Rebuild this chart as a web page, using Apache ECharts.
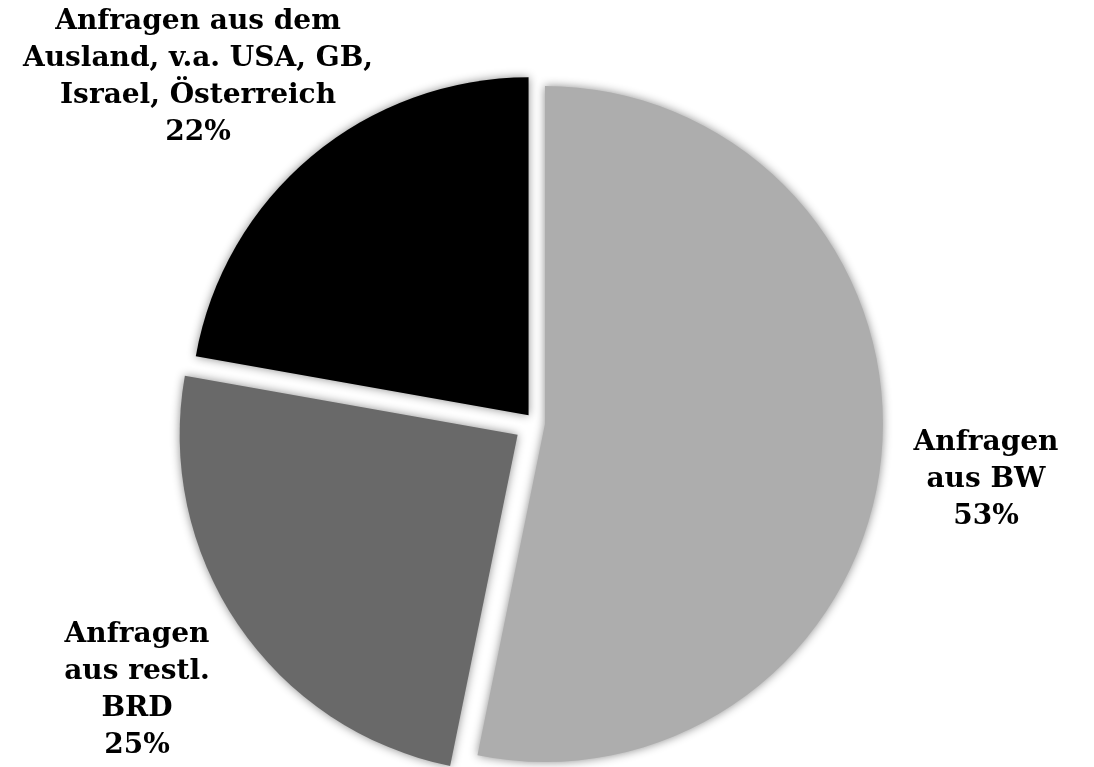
<!DOCTYPE html>
<html>
<head>
<meta charset="utf-8">
<script src="https://cdn.jsdelivr.net/npm/echarts@6/dist/echarts.min.js"></script>
<style>
  html, body { margin: 0; padding: 0; background: #fff; }
  #chart { width: 1094px; height: 767px; }
</style>
</head>
<body>
<div id="chart"></div>
<script>
// Herkunft der Anfragen (Anteile in %)
var names = ['Anfragen\naus BW', 'Anfragen\naus restl.\nBRD', 'Anfragen aus dem\nAusland, v.a. USA, GB,\nIsrael, Österreich'];
var values = [53.2, 24.6, 22.2];
var colors = ['#adadad', '#696969', '#000000'];

// layout only: pie centre/radius, how far each slice is pulled out, label centres
var cx = 535, cy = 423, rad = 338;
var offsets = [10, 21, 10];
var labelPos = [[986, 480], [137, 690], [198, 77]];

var myChart = echarts.init(document.getElementById('chart'), null, { renderer: 'canvas' });

var total = 0;
for (var i = 0; i < values.length; i++) total += values[i];

// one pie per slice, so every slice can be pulled out by its own amount
var series = [];
var graphics = [];
var acc = 0;
for (var i = 0; i < values.length; i++) {
    var mid = (acc + values[i] / 2) / total * 2 * Math.PI;
    acc += values[i];
    var dx = offsets[i] * Math.sin(mid);
    var dy = -offsets[i] * Math.cos(mid);

    var data = [];
    for (var j = 0; j < values.length; j++) {
        data.push({
            name: names[j],
            value: values[j],
            itemStyle: j === i
                ? { color: colors[j], shadowBlur: 10, shadowColor: 'rgba(0,0,0,0.45)' }
                : { color: 'rgba(0,0,0,0)', shadowBlur: 0 }
        });
    }
    series.push({
        type: 'pie',
        center: [cx + dx, cy + dy],
        radius: rad,
        startAngle: 90,
        clockwise: true,
        silent: true,
        label: { show: false },
        labelLine: { show: false },
        itemStyle: { borderWidth: 0 },
        data: data
    });

    var pct = Math.round(values[i] / total * 100);
    graphics.push({
        type: 'text',
        x: labelPos[i][0],
        y: labelPos[i][1],
        style: {
            text: names[i] + '\n' + pct + '%',
            fill: '#000',
            font: 'bold 28px "DejaVu Serif"',
            lineHeight: 37,
            align: 'center',
            verticalAlign: 'middle'
        }
    });
}

var option = {
    animation: false,
    series: series,
    graphic: graphics
};

myChart.setOption(option);
window.onresize = myChart.resize;
</script>
</body>
</html>
